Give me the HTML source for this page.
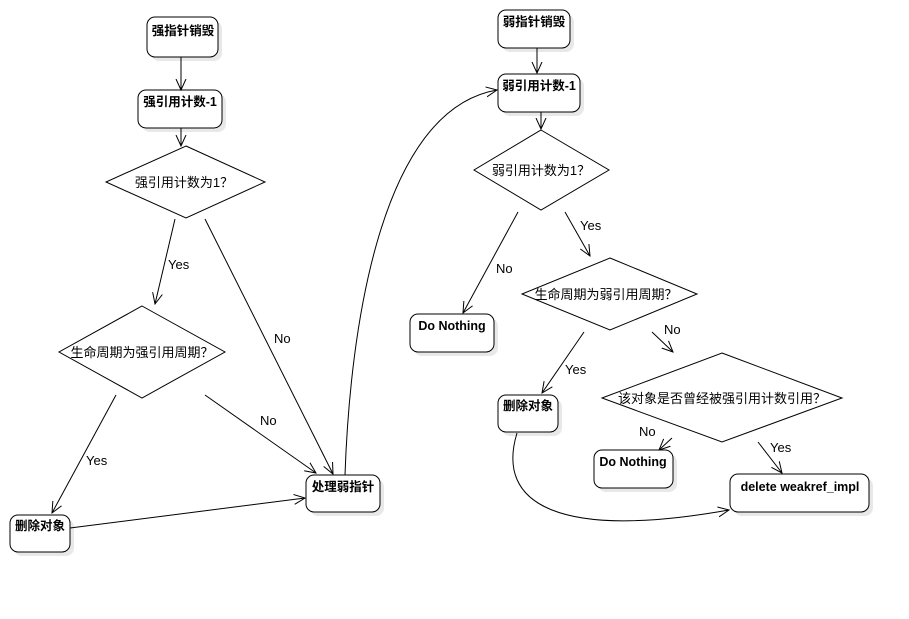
<!DOCTYPE html>
<html><head><meta charset="utf-8"><style>
html,body{margin:0;padding:0;background:#fff;}
svg{display:block;}
text{font-family:"Liberation Sans","Noto Sans CJK SC",sans-serif;font-size:13px;fill:#000;}
.b{font-weight:bold;font-size:12.5px;}
.q{font-family:"Noto Sans CJK SC",sans-serif;}
.n{fill:#fff;stroke:#000;stroke-width:1;}
.s{fill:#e8e8e8;stroke:none;}
.l{fill:none;stroke:#000;stroke-width:1;}
</style></head><body>
<svg width="909" height="619" viewBox="0 0 909 619" xmlns="http://www.w3.org/2000/svg">
<defs>
<marker id="a" markerWidth="12" markerHeight="12" refX="11" refY="6" orient="auto" markerUnits="userSpaceOnUse">
<path d="M0,1 L11,6 L0,11" fill="none" stroke="#000" stroke-width="1"/>
</marker>
</defs>
<rect class="s" x="151" y="21" width="71" height="40" rx="8"/>
<rect class="s" x="142" y="94" width="84" height="38" rx="8"/>
<rect class="s" x="14" y="519" width="60" height="37" rx="8"/>
<rect class="s" x="310" y="479" width="74" height="37" rx="8"/>
<rect class="s" x="502" y="14" width="72" height="38" rx="8"/>
<rect class="s" x="502" y="78" width="82" height="38" rx="8"/>
<rect class="s" x="414" y="318" width="84" height="38" rx="8"/>
<rect class="s" x="502" y="399" width="60" height="37" rx="8"/>
<rect class="s" x="598" y="454" width="79" height="38" rx="8"/>
<rect class="s" x="734" y="478" width="139" height="38" rx="8"/>
<rect class="n" x="147" y="17" width="71" height="40" rx="8"/>
<text class="b" x="183" y="35" text-anchor="middle">强指针销毁</text>
<rect class="n" x="138" y="90" width="84" height="38" rx="8"/>
<text class="b" x="180" y="106" text-anchor="middle">强引用计数-1</text>
<polygon class="n" points="186,146 265,182 186,218 106,182"/>
<text x="184" y="187" text-anchor="middle">强引用计数为1<tspan class="q">？</tspan></text>
<polygon class="n" points="142,306 225,352 142,398 59,352"/>
<text x="142" y="357" text-anchor="middle">生命周期为强引用周期<tspan class="q">？</tspan></text>
<rect class="n" x="10" y="515" width="60" height="37" rx="8"/>
<text class="b" x="40" y="530" text-anchor="middle">删除对象</text>
<rect class="n" x="306" y="475" width="74" height="37" rx="8"/>
<text class="b" x="343" y="491" text-anchor="middle">处理弱指针</text>
<rect class="n" x="498" y="10" width="72" height="38" rx="8"/>
<text class="b" x="534" y="26" text-anchor="middle">弱指针销毁</text>
<rect class="n" x="498" y="74" width="82" height="38" rx="8"/>
<text class="b" x="539" y="90" text-anchor="middle">弱引用计数-1</text>
<polygon class="n" points="541,130 609,170 541,210 474,170"/>
<text x="541" y="175" text-anchor="middle">弱引用计数为1<tspan class="q">？</tspan></text>
<rect class="n" x="410" y="314" width="84" height="38" rx="8"/>
<text class="b" x="452" y="330" text-anchor="middle">Do Nothing</text>
<polygon class="n" points="610,258 697,294 610,330 522,294"/>
<text x="606" y="299" text-anchor="middle">生命周期为弱引用周期<tspan class="q">？</tspan></text>
<rect class="n" x="498" y="395" width="60" height="37" rx="8"/>
<text class="b" x="528" y="410" text-anchor="middle">删除对象</text>
<polygon class="n" points="722,353 842,398 722,442 602,398"/>
<text x="722" y="403" text-anchor="middle">该对象是否曾经被强引用计数引用<tspan class="q">？</tspan></text>
<rect class="n" x="594" y="450" width="79" height="38" rx="8"/>
<text class="b" x="633" y="466" text-anchor="middle">Do Nothing</text>
<rect class="n" x="730" y="474" width="139" height="38" rx="8"/>
<text class="b" x="800" y="491" text-anchor="middle">delete weakref_impl</text>
<line class="l" x1="181" y1="57" x2="181" y2="90" marker-end="url(#a)"/>
<line class="l" x1="181" y1="128" x2="181" y2="146" marker-end="url(#a)"/>
<line class="l" x1="175" y1="219" x2="155" y2="304" marker-end="url(#a)"/>
<text x="168" y="269">Yes</text>
<line class="l" x1="205" y1="219" x2="333" y2="474" marker-end="url(#a)"/>
<text x="274" y="343">No</text>
<line class="l" x1="116" y1="395" x2="52" y2="513" marker-end="url(#a)"/>
<text x="86" y="465">Yes</text>
<line class="l" x1="205" y1="395" x2="316" y2="473" marker-end="url(#a)"/>
<text x="260" y="425">No</text>
<line class="l" x1="70" y1="528" x2="305" y2="498" marker-end="url(#a)"/>
<path class="l" d="M345,475 C350,330 380,110 497,90" marker-end="url(#a)"/>
<line class="l" x1="537" y1="48" x2="537" y2="73" marker-end="url(#a)"/>
<line class="l" x1="541" y1="112" x2="541" y2="129" marker-end="url(#a)"/>
<line class="l" x1="518" y1="212" x2="463" y2="313" marker-end="url(#a)"/>
<text x="496" y="273">No</text>
<line class="l" x1="565" y1="212" x2="590" y2="256" marker-end="url(#a)"/>
<text x="580" y="230">Yes</text>
<line class="l" x1="584" y1="332" x2="542" y2="393" marker-end="url(#a)"/>
<text x="565" y="374">Yes</text>
<line class="l" x1="652" y1="332" x2="673" y2="352" marker-end="url(#a)"/>
<text x="664" y="334">No</text>
<line class="l" x1="672" y1="438" x2="659" y2="450" marker-end="url(#a)"/>
<text x="639" y="436">No</text>
<line class="l" x1="758" y1="442" x2="782" y2="473" marker-end="url(#a)"/>
<text x="770" y="452">Yes</text>
<path class="l" d="M517,433 C495,505 560,540 729,510" marker-end="url(#a)"/>
</svg>
</body></html>
